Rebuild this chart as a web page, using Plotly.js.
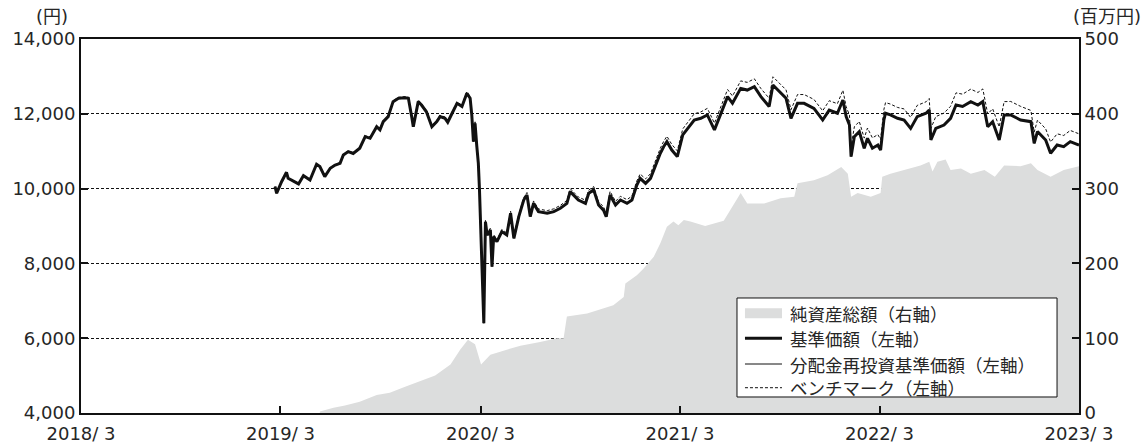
<!DOCTYPE html>
<html><head><meta charset="utf-8">
<script src="https://cdn.plot.ly/plotly-3.0.1.min.js"></script>
<style>html,body{margin:0;padding:0;background:#fff}#chart{width:1148px;height:443px}</style>
</head><body><div id="chart"></div>
<script>
const navDates = ['2019-03-21','2019-03-24','2019-04-02','2019-04-11','2019-04-14','2019-04-27','2019-05-03','2019-05-12','2019-05-24','2019-06-05','2019-06-11','2019-06-20','2019-06-30','2019-07-09','2019-07-18','2019-07-24','2019-08-02','2019-08-11','2019-08-23','2019-09-02','2019-09-11','2019-09-23','2019-09-29','2019-10-05','2019-10-14','2019-10-23','2019-11-02','2019-11-14','2019-11-20','2019-11-26','2019-11-29','2019-12-08','2019-12-14','2019-12-23',
'2020-01-02','2020-01-11','2020-01-17','2020-01-26','2020-01-31','2020-02-08','2020-02-17','2020-02-26','2020-03-06','2020-03-12','2020-03-15','2020-03-18','2020-03-21','2020-03-24','2020-03-27','2020-03-29','2020-03-31','2020-04-06','2020-04-09','2020-04-12','2020-04-15','2020-04-18','2020-04-21','2020-04-24','2020-04-30','2020-05-09','2020-05-18','2020-05-25','2020-05-31','2020-06-09','2020-06-18','2020-06-24','2020-06-30','2020-07-06','2020-07-15','2020-07-31','2020-08-12','2020-08-24','2020-09-05','2020-09-11','2020-09-20','2020-09-26','2020-10-09','2020-10-15','2020-10-24','2020-11-02','2020-11-11','2020-11-16','2020-11-23','2020-12-03','2020-12-12','2020-12-24',
'2021-01-02','2021-01-11','2021-01-17','2021-01-27','2021-02-05','2021-02-11','2021-02-23','2021-03-01','2021-03-07','2021-03-16','2021-03-26','2021-04-05','2021-04-26','2021-05-08','2021-05-20','2021-06-02','2021-06-14','2021-06-26','2021-07-05','2021-07-20','2021-08-01','2021-08-14','2021-08-26','2021-09-10','2021-09-17','2021-09-26','2021-10-11','2021-10-20','2021-11-01','2021-11-13','2021-12-01','2021-12-17','2021-12-29',
'2022-01-13','2022-01-23','2022-01-29','2022-02-04','2022-02-07','2022-02-13','2022-02-22','2022-03-03','2022-03-09','2022-03-18','2022-03-28','2022-04-02','2022-04-08','2022-04-11','2022-04-20','2022-05-03','2022-05-15','2022-05-27','2022-06-08','2022-06-24','2022-06-30','2022-07-03','2022-07-12','2022-07-27','2022-08-08','2022-08-18','2022-08-30','2022-09-14','2022-09-27','2022-10-06','2022-10-15','2022-10-24','2022-11-05','2022-11-14','2022-11-26','2022-12-14',
'2023-01-02','2023-01-08','2023-01-14','2023-01-29','2023-02-07','2023-02-19','2023-03-03','2023-03-15','2023-03-31'];

// 基準価額（円） — 分配金再投資基準価額 is identical (no distributions)
const navValues = [10050,9875,10185,10436,10275,10168,10125,10345,10230,10650,10590,10320,10545,10630,10675,10900,10990,10940,11080,11390,11345,11655,11570,11790,11925,12325,12415,12430,12415,11925,11655,12325,12235,12055,
11655,11790,11925,11880,11775,12015,12280,12195,12550,12415,11970,11255,11745,11165,10675,10005,8940,6400,9115,8760,8805,8895,7910,8715,8580,8850,8760,9340,8670,9250,9695,9830,9250,9605,9385,9340,9385,9475,9605,9920,9785,9695,9605,9875,9965,9560,9425,9250,9830,9560,9695,9605,
9695,10095,10275,10140,10275,10500,10945,11120,11255,11030,10855,11435,11835,11880,11970,11570,12015,12460,12280,12680,12635,12725,12460,12195,12770,12635,12415,11880,12280,12280,12145,11835,12100,
12015,12370,11925,11700,10855,11390,11525,11080,11345,11080,11165,11030,11835,12015,11970,11880,11835,11610,11925,12015,12100,11300,11610,11700,11880,12235,12195,12325,12235,12325,11655,11790,11300,11970,11970,11835,
11790,11210,11525,11300,10945,11165,11120,11255,11165];

const reinvValues = navValues;

const benchValues = [10060,9890,10200,10450,10290,10185,10140,10360,10250,10670,10610,10340,10565,10650,10695,10920,11010,10960,11100,11410,11370,11680,11595,11815,11950,12350,12440,12460,12445,11955,11685,12355,12265,12085,
11690,11825,11960,11915,11810,12050,12315,12230,12590,12455,12010,11295,11785,11205,10715,10045,8980,6440,9160,8805,8850,8945,7960,8765,8630,8905,8815,9400,8730,9310,9760,9895,9315,9670,9455,9410,9460,9550,9685,10000,9865,9775,9690,9960,10055,9650,9515,9345,9925,9660,9795,9705,
9800,10205,10390,10260,10400,10630,11080,11260,11400,11180,11010,11595,12000,12050,12145,11750,12200,12650,12475,12880,12840,12935,12675,12415,12990,12860,12640,12110,12515,12515,12385,12080,12350,
12270,12630,12190,11965,11120,11655,11795,11350,11620,11355,11445,11310,12115,12300,12260,12170,12130,11905,12225,12320,12410,11610,11925,12020,12200,12560,12525,12660,12570,12665,11995,12135,11650,12325,12330,12200,
12090,11510,11830,11600,11245,11465,11420,11555,11465];

const naDates = ['2019-06-11','2019-07-06','2019-07-27','2019-08-23','2019-09-23','2019-10-17','2019-11-14','2019-12-11',
'2020-01-08','2020-02-05','2020-02-23','2020-03-08','2020-03-21','2020-04-01','2020-04-18','2020-05-06','2020-06-12','2020-07-18','2020-08-18','2020-08-30','2020-09-05','2020-10-12','2020-11-11','2020-11-29','2020-12-18','2020-12-21',
'2021-01-11','2021-01-23','2021-02-11','2021-02-23','2021-03-07','2021-03-19','2021-03-28','2021-04-07','2021-04-19','2021-05-16','2021-06-19','2021-07-20','2021-08-01','2021-09-01','2021-10-01','2021-10-26','2021-11-01','2021-12-01','2021-12-26',
'2022-01-20','2022-02-01','2022-02-07','2022-02-19','2022-03-15','2022-04-02','2022-04-05','2022-04-20','2022-05-15','2022-06-14','2022-06-30','2022-07-06','2022-07-15','2022-07-30','2022-08-08','2022-08-27','2022-09-14','2022-10-09','2022-10-28','2022-11-14','2022-12-14',
'2023-01-02','2023-01-14','2023-02-07','2023-03-03','2023-03-31'];
// 純資産総額（百万円）
const naValues = [2,7,10,15,24,27,35,42,
50,65,85,98,92,65,78,82,90,95,100,100,129,133,140,144,155,173,
184,193,209,227,249,256,251,258,256,250,257,294,280,280,287,289,307,311,318,
329,320,289,294,289,294,316,320,325,331,336,323,336,339,325,327,320,325,316,331,330,
334,325,316,325,330];

const xTickVals = ['2018-03-31','2019-03-31','2020-03-31','2021-03-31','2022-03-31','2023-03-31'];
const xTickText = ['2018/ 3','2019/ 3','2020/ 3','2021/ 3','2022/ 3','2023/ 3'];
const seriesNames = ['純資産総額（右軸）','基準価額（左軸）','分配金再投資基準価額（左軸）','ベンチマーク（左軸）'];

const INK = '#111';
const TXT = '#262626';
const AREA = '#dcdddd';
const CJK = '"Noto Sans CJK JP", sans-serif';
const NUM = '"DejaVu Sans", "Noto Sans CJK JP", sans-serif';

const data = [
  {type:'scatter', mode:'lines', x:naDates, y:naValues, name:seriesNames[0], yaxis:'y', fill:'tozeroy', fillcolor:AREA, line:{width:0, color:AREA}},
  {type:'scatter', mode:'lines', x:navDates, y:navValues, name:seriesNames[1], yaxis:'y2', line:{width:3, color:INK}},
  {type:'scatter', mode:'lines', x:navDates, y:reinvValues, name:seriesNames[2], yaxis:'y2', line:{width:1, color:INK}},
  {type:'scatter', mode:'lines', x:navDates, y:benchValues, name:seriesNames[3], yaxis:'y2', line:{width:1, color:INK, dash:'3px,2px'}}
];

const axisCommon = {ticks:'inside', ticklen:7, tickwidth:2, tickcolor:INK, showline:true, linewidth:2, linecolor:INK, zeroline:false,
  tickfont:{family:NUM, size:18, color:TXT}};

// hand-built legend box (positions in paper fractions of the plot area)
const lgX0 = 0.6573, lgX1 = 0.9780, lgY0 = 0.0428, lgY1 = 0.3075;
const swX0 = 0.6653, swX1 = 0.7024, txX = 0.7084;
const rowY = [0.2666, 0.1997, 0.1310, 0.0676];

const shapes = [
  {type:'rect', xref:'paper', yref:'paper', x0:lgX0, x1:lgX1, y0:lgY0, y1:lgY1, fillcolor:'#fff', line:{color:INK, width:1}},
  {type:'rect', xref:'paper', yref:'paper', x0:swX0, x1:swX1, y0:rowY[0]-0.0135, y1:rowY[0]+0.0135, fillcolor:AREA, line:{width:0}},
  {type:'line', xref:'paper', yref:'paper', x0:swX0, x1:swX1, y0:rowY[1], y1:rowY[1], line:{color:INK, width:3}},
  {type:'line', xref:'paper', yref:'paper', x0:swX0, x1:swX1, y0:rowY[2], y1:rowY[2], line:{color:INK, width:1}},
  {type:'line', xref:'paper', yref:'paper', x0:swX0, x1:swX1, y0:rowY[3], y1:rowY[3], line:{color:INK, width:1, dash:'3px,2px'}}
];

const annotations = [
  {text:'(円)', xref:'paper', yref:'paper', x:-0.011, y:1.059, xanchor:'right', yanchor:'middle', showarrow:false, font:{family:NUM, size:18, color:TXT}},
  {text:'(百万円)', xref:'paper', yref:'paper', x:0.992, y:1.059, xanchor:'left', yanchor:'middle', showarrow:false, font:{family:NUM, size:18, color:TXT}}
].concat(seriesNames.map((s, i) => ({text:s, xref:'paper', yref:'paper', x:txX, y:rowY[i], xanchor:'left', yanchor:'middle', showarrow:false, font:{family:CJK, size:17.5, color:TXT}})));

const layout = {
  width:1148, height:443,
  margin:{l:81, r:69, t:39, b:30},
  paper_bgcolor:'#fff', plot_bgcolor:'#fff',
  font:{family:CJK, size:17, color:TXT},
  showlegend:false,
  xaxis:Object.assign({}, axisCommon, {type:'date', range:['2018-03-31','2023-03-31'], tickmode:'array', tickvals:xTickVals, ticktext:xTickText, mirror:true, showgrid:false, ticklabelstandoff:3}),
  yaxis:Object.assign({}, axisCommon, {side:'right', range:[0,500], tick0:0, dtick:100, showgrid:false}),
  yaxis2:Object.assign({}, axisCommon, {overlaying:'y', side:'left', range:[4000,14000], tick0:4000, dtick:2000, tickformat:',d', showgrid:true, gridcolor:INK, gridwidth:1, griddash:'3px,2px'}),
  shapes:shapes,
  annotations:annotations
};

Plotly.newPlot('chart', data, layout, {displayModeBar:false, staticPlot:true});
</script></body></html>
